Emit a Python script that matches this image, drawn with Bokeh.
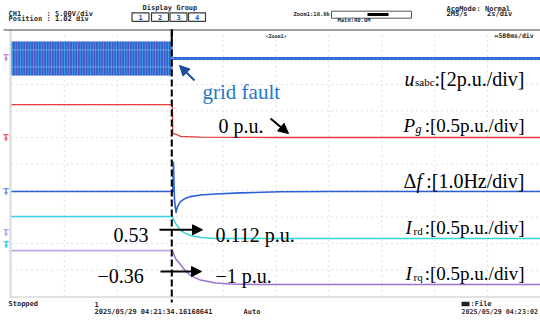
from bokeh.plotting import figure
from bokeh.models import Arrow, NormalHead
from bokeh.core.properties import value
from bokeh.embed import file_html
from bokeh.resources import INLINE

# ---------------- data ----------------
t_fault = 1.515                      # s, grid fault instant (marker line)
# u_sabc (p.u.) envelope of the three-phase voltages
u_t_pre = [0.0, 1.522]
u_amp_pre = [1.28, 1.28]
u_cross_pre = [0.64, 0.64]
u_t_post = [1.522, 5.0]
u_amp_post = [0.11, 0.11]

# P_g (p.u.)
pg_t = [0.0, 1.52, 1.524, 1.55, 1.597, 1.786, 2.5, 5.0]
pg_v = [0.62, 0.62, 0.075, 0.066, 0.02, 0.006, 0.0, 0.0]

# delta f (Hz)
df_t = [0.0, 1.524, 1.531, 1.536, 1.541, 1.555, 1.569, 1.597, 1.645,
        1.692, 1.786, 1.928, 2.164, 2.543, 3.015, 5.0]
df_v = [0.0, 0.0, 1.10, 0.23, -0.34, -0.79, -0.57, -0.38, -0.25,
        -0.19, -0.13, -0.09, -0.05, -0.01, 0.0, 0.0]

# I_rd (p.u.)
ird_t = [0.0, 1.522, 1.531, 1.55, 1.597, 1.645, 1.692, 1.786, 1.928, 2.2, 5.0]
ird_v = [0.53, 0.53, 0.47, 0.40, 0.27, 0.21, 0.17, 0.135, 0.115, 0.112, 0.112]

# I_rq (p.u.)
irq_t = [0.0, 1.522, 1.55, 1.597, 1.645, 1.692, 1.786, 1.928, 2.07, 2.36, 5.0]
irq_v = [-0.36, -0.36, -0.51, -0.62, -0.745, -0.83, -0.915, -0.97, -0.99, -1.0, -1.0]

# ---------------- layout constants ----------------
# channel ground level (div) and scale (unit/div)
U_OFF, U_SC = 8.98, 2.0
PG_OFF, PG_SC = 6.0, 0.5
DF_OFF, DF_SC = 3.96, 1.0
IRD_OFF, IRD_SC = 1.96, 0.5
IRQ_OFF, IRQ_SC = 2.45, 0.5

def px_x(X):
    return (X - 11) / 105.8

def px_y(Y):
    return (296 - Y) / 26.5

def ch(vals, off, sc):
    return [off + v / sc for v in vals]

p = figure(width=540, height=322, output_backend="svg", toolbar_location=None,
           x_range=(px_x(0), px_x(540)), y_range=(px_y(322), px_y(0)),
           x_axis_type=None, y_axis_type=None, min_border=0)
p.outline_line_color = None
p.background_fill_color = "white"
p.border_fill_color = "white"

# ---------------- screen grid ----------------
grid_col = "#c4c4c4"
vx = [0.5 * k for k in range(1, 10)]
p.segment(x0=vx, y0=[0] * 9, x1=vx, y1=[10] * 9, line_color=grid_col,
          line_dash="1 4", line_width=1)
hy = list(range(1, 10))
p.segment(x0=[0] * 9, y0=hy, x1=[5] * 9, y1=hy, line_color=grid_col,
          line_dash="1 4", line_width=1)
# frame
p.segment(x0=[px_x(10)], y0=[px_y(29.5)], x1=[px_x(10)], y1=[px_y(297)],
          line_color="#d9d9d9", line_width=2)
p.segment(x0=[px_x(10)], y0=[px_y(296.5)], x1=[px_x(541)], y1=[px_y(296.5)],
          line_color="#d9d9d9", line_width=1.5)
p.segment(x0=[px_x(3)], y0=[px_y(29.5)], x1=[px_x(541)], y1=[px_y(29.5)],
          line_color="#808080", line_width=1.5)

# ---------------- traces ----------------
# u_sabc
p.varea(x=u_t_pre,
        y1=[U_OFF + a / U_SC for a in u_amp_pre],
        y2=[U_OFF - a / U_SC for a in u_amp_pre],
        fill_color="#4653c6", hatch_pattern="|", hatch_color="#35b4ea",
        hatch_scale=2.6, hatch_weight=1.3, hatch_alpha=0.85)
for sgn in (1, -1):
    p.line(u_t_pre, [U_OFF + sgn * c / U_SC for c in u_cross_pre],
           line_color="#8cc8f2", line_width=1, line_alpha=0.55)
p.varea(x=u_t_post,
        y1=[U_OFF + a / U_SC for a in u_amp_post],
        y2=[U_OFF - a / U_SC for a in u_amp_post],
        fill_color="#2b62d2")
p.line(u_t_post, [U_OFF] * 2, line_color="#4fa8ec", line_width=1.2,
       line_dash="2 2", line_alpha=0.8)

# P_g
p.line(pg_t, ch(pg_v, PG_OFF, PG_SC), line_color="#e8383c", line_width=1.3)
# delta f
p.line(df_t, ch(df_v, DF_OFF, DF_SC), line_color="#2b5fd8", line_width=1.6,
       line_join="round")
# I_rd
p.line(ird_t, ch(ird_v, IRD_OFF, IRD_SC), line_color="#35d3de", line_width=1.5)
# I_rq
p.line(irq_t[:2], ch(irq_v[:2], IRQ_OFF, IRQ_SC), line_color="#c5a6e2", line_width=1.8)
p.line(irq_t[1:], ch(irq_v[1:], IRQ_OFF, IRQ_SC), line_color="#9d72d2", line_width=1.5)

# fault line
p.segment(x0=[t_fault], y0=[px_y(29)], x1=[t_fault], y1=[px_y(302)],
          line_color="black", line_width=2, line_dash="7 3")
p.segment(x0=[t_fault], y0=[px_y(29)], x1=[t_fault], y1=[px_y(40)],
          line_color="black", line_width=2)

# channel ground markers on the left edge
for Y, col in [(58, "#c888d8"), (138, "#f06262"), (192, "#7896e4"),
               (233, "#c6a2e4"), (245, "#40d0d8")]:
    p.text(x=[px_x(5.5)], y=[px_y(Y)], text=["\u0166"], text_font=value("DejaVu Sans"),
           text_font_size=value("8px"), text_color=col, text_align="center",
           text_baseline="middle", text_font_style="bold")

# ---------------- scope header / footer ----------------
MONO = value("DejaVu Sans Mono")

def mono(X, Y, s, size="7px", color="#2a2a2a", align="left"):
    p.text(x=[px_x(X)], y=[px_y(Y)], text=[s], text_font=MONO,
           text_font_size=value(size), text_color=color, text_align=align,
           text_baseline="middle", text_font_style="bold")

mono(8, 13.7, "CH1")
mono(46, 13.7, ": 5.00V/div")
mono(8, 18.2, "Position")
mono(46, 18.2, ": 1.02 div")
mono(142, 7.8, "Display Group")
btn_x = [140, 159.5, 178, 196.5]
p.rect(x=[px_x(b) for b in btn_x], y=[px_y(16.6)] * 4, width=17 / 105.8,
       height=8.5 / 26.5, fill_color="white", line_color="#3a3a3a", line_width=1.2)
for b, s in zip(btn_x, ["1", "2", "3", "4"]):
    mono(b, 16.8, s, color="#1f4fbf", align="center")
mono(293, 13.6, "Zoom1:10.0k", size="5.5px")
p.rect(x=[px_x(371)], y=[px_y(14.2)], width=80 / 105.8, height=7 / 26.5,
       fill_color="white", line_color="#555555", line_width=1)
p.rect(x=[px_x(377.5)], y=[px_y(14.0)], width=21 / 105.8, height=3.2 / 26.5,
       fill_color="black", line_color=None)
mono(337, 19.8, "Main:40.0M", size="5.5px")
mono(446, 8.6, "AcqMode")
mono(476, 8.6, ": Normal")
mono(446, 13.6, "2MS/s")
mono(486.5, 13.6, "2s/div")
mono(265, 35.7, "<Zoom1>", size="5px")
mono(494, 35.7, "\u2194500ms/div", size="6.5px")

mono(8, 303.5, "Stopped")
mono(94, 303.5, "1")
mono(94, 311.4, "2025/05/29 04:21:34.16168641")
mono(243, 311.4, "Auto")
p.rect(x=[px_x(465)], y=[px_y(303.5)], width=8 / 105.8, height=4.5 / 26.5,
       fill_color="#222222", line_color=None)
mono(470, 303.5, ":File")
mono(461, 311.4, "2025/05/29 04:23:02", size="6.7px")

# ---------------- annotations ----------------
SERIF = value("Liberation Serif")

def serif(X, Y, s, size="20px", color="black", align="left", style="normal"):
    p.text(x=[px_x(X)], y=[px_y(Y)], text=[s], text_font=SERIF,
           text_font_size=value(size), text_color=color, text_align=align,
           text_baseline="alphabetic", text_font_style=style)

serif(202, 91.5, "grid fault", size="21px", color="#1f78cc")

serif(404, 78, "u", style="italic")
serif(414.5, 81.5, "sabc", size="11px")
serif(524, 78, ":[2p.u./div]", align="right")

serif(403, 125, "P", size="19px", style="italic")
serif(415, 128.5, "g", size="12px", style="italic")
serif(524, 125, ":[0.5p.u./div]", size="19px", align="right")
serif(218, 125, "0 p.u.")

serif(403, 180, "\u0394")
serif(416, 180, "f", style="italic")
serif(524, 180, ":[1.0Hz/div]", align="right")

serif(405, 227, "I", size="19px", style="italic")
serif(413, 230.5, "rd", size="11px")
serif(524, 227, ":[0.5p.u./div]", size="19px", align="right")
serif(113, 234, "0.53")
serif(215, 234, "0.112 p.u.")

serif(405, 273, "I", size="19px", style="italic")
serif(413, 276.5, "rq", size="11px")
serif(524, 273, ":[0.5p.u./div]", size="19px", align="right")
serif(97, 275.5, "\u22120.36")
serif(215, 275.5, "\u22121 p.u.")

def arrow(X0, Y0, X1, Y1, color="black", size=10):
    p.add_layout(Arrow(end=NormalHead(size=size, fill_color=color, line_color=color),
                       x_start=px_x(X0), y_start=px_y(Y0),
                       x_end=px_x(X1), y_end=px_y(Y1),
                       line_color=color, line_width=2))

arrow(194, 80, 179, 65, color="#1d4f9c")
arrow(270, 118, 288, 133)
arrow(159, 229.3, 202, 229.3)
arrow(160, 271, 201, 271)

open("out.html", "w").write(file_html(p, INLINE))
